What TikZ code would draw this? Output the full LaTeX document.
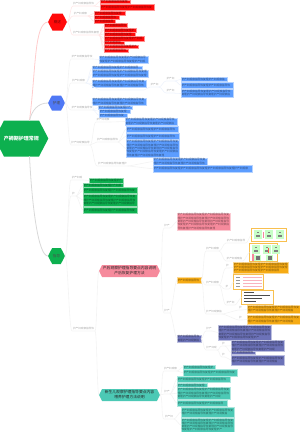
\documentclass[tikz,border=0pt]{standalone}
\usepackage{fontspec}
\setmainfont{Noto Sans CJK SC}
\usetikzlibrary{shapes.symbols}
\definecolor{mmred}{HTML}{FF0A0A}
\definecolor{mmblue}{HTML}{5C9DFF}
\definecolor{mmhex}{HTML}{4F78F5}
\definecolor{mmgreen}{HTML}{0DB04F}
\definecolor{mmpink}{HTML}{F68A9C}
\definecolor{mmorange}{HTML}{F6AB14}
\definecolor{mmpurple}{HTML}{6C72B8}
\definecolor{mmteal}{HTML}{4CC9B5}
\definecolor{lnkred}{HTML}{FFE6E6}
\definecolor{lnkgray}{HTML}{F3F3F3}
\definecolor{lnkblue}{HTML}{EEF3FC}
\definecolor{trunkred}{HTML}{FFCCCC}
\definecolor{trunkgray}{HTML}{D8D8D8}
\tikzset{
  hexnode/.style={signal,signal to=east and west,signal pointer angle=125,inner sep=0pt,outer sep=0pt,align=center},
  leafbox/.style={rectangle,inner sep=0pt,outer sep=0pt,line width=.4pt,align=left,font=\fontsize{2.7}{3.3}\selectfont},
  tag/.style={rectangle,inner sep=0pt,outer sep=0pt,minimum height=4pt,text=black!35,font=\fontsize{2.6}{3.1}\selectfont,align=left,anchor=west},
  imgframe/.style={rectangle,draw=mmorange!75,line width=.9pt,fill=white,inner sep=0pt,outer sep=0pt},
  conn/.style={draw=#1,line width=.6pt,line cap=round},
  trunk/.style={draw=#1,line width=.8pt,line cap=round},
}
% short run of characters that fills a text block
\newcommand\fillchars[1]{\foreach \i in {1,...,#1}{\pgfmathtruncatemacro\k{mod(\i,10)}\ifcase\k 理\or 护\or 产\or 妇\or 观\or 察\or 指\or 导\or 恢\or 复\fi\hskip 0pt plus .1pt\relax}}
% filled text block: name, x1, y1, x2, y2, colour
\newcommand\mmbox[6]{%
  \pgfmathsetmacro\bw{#4-#2}\pgfmathsetmacro\bh{#5-#3}%
  \pgfmathsetmacro\tw{\bw-1}%
  \pgfmathtruncatemacro\nc{max(1,floor(\tw/2.75))*max(1,floor((\bh-.2)/3.3))}%
  \node[leafbox,text=#6!50!black,fill=#6,draw=#6!45,minimum width=\bw pt,minimum height=\bh pt,text width=\tw pt] (#1) at ({(#2+#4)/2},{(#3+#5)/2}) {\fillchars{\nc}};}
% underlined branch label: name, x1, x2, y
\newcommand\mmtag[4]{%
  \pgfmathsetmacro\bw{#3-#2}%
  \pgfmathtruncatemacro\nc{max(1,floor(\bw/2.6))}%
  \node[tag,minimum width=\bw pt] (#1) at (#2,#4) {\fillchars{\nc}};}
% connector from a parent anchor to a label, running on as its underline
\newcommand\mmlink[3]{\path[conn=#1] (#2) to[out=0,in=180,out distance=3pt,in distance=3pt] (#3.south west) -- (#3.south east);}
% connector from a label to the block it introduces
\newcommand\mmleaf[3]{\path[conn=#1] (#2.south east) to[out=0,in=180,out distance=2pt,in distance=2pt] (#3.west);}
\begin{document}
\begin{tikzpicture}[x=1pt,y=-1pt]
\useasboundingbox (0,0) rectangle (300,432);

% root and the three main branches
\node[hexnode,fill=mmgreen,text=white,font=\fontsize{5}{6}\selectfont\bfseries,minimum width=39pt,minimum height=36pt] (root) at (21.5,138.5) {产褥期护理常规};
\node[hexnode,fill=mmred,text=mmred!45!black,font=\fontsize{3.6}{4}\selectfont,minimum width=19pt,minimum height=17pt] (hr) at (57.5,22) {概述};
\node[hexnode,fill=mmhex,text=black!70,font=\fontsize{3.6}{4}\selectfont,minimum width=17pt,minimum height=15pt] (hb) at (56.5,103) {护理};
\node[hexnode,fill=mmgreen,text=black!70,font=\fontsize{3.6}{4}\selectfont,minimum width=17pt,minimum height=16pt] (hg) at (56.5,256) {指导};
\path[trunk=trunkred] (root.north) ++(8,0) .. controls (36,70) and (34,23) .. (hr.west);
\path[trunk=trunkgray] (root.north) ++(8,0) .. controls (32,110) and (38,103) .. (hb.west);
\path[trunk=trunkgray] (root.south) ++(8,0) .. controls (32,205) and (38,256) .. (hg.west);

% red branch
\mmtag{l1}{73}{94}{4}\mmtag{l2}{73}{88}{14}\mmtag{l3}{73}{99}{33}
\mmbox{r1a}{100}{0}{130}{3}{mmred}\mmbox{r1b}{100}{4}{154}{10}{mmred}
\mmbox{r2a}{94}{11.5}{125}{15}{mmred}\mmbox{r2b}{94}{15}{119}{19}{mmred}\mmbox{r2c}{94}{19.5}{115}{23}{mmred}
\mmbox{r3a}{104}{23.5}{127}{27}{mmred}\mmbox{r3b}{104}{28}{136}{32}{mmred}\mmbox{r3c}{104}{32}{135}{36}{mmred}
\mmbox{r3d}{104}{36}{144}{41}{mmred}\mmbox{r3e}{104}{41}{124}{44.5}{mmred}\mmbox{r3f}{104}{45}{138}{48.5}{mmred}\mmbox{r3g}{104}{49}{128}{52}{mmred}
\mmlink{lnkred}{hr.east}{l1}\mmlink{lnkred}{hr.east}{l2}\mmlink{lnkred}{hr.east}{l3}
\mmleaf{lnkred}{l1}{r1a}\mmleaf{lnkred}{l1}{r1b}
\mmleaf{lnkred}{l2}{r2a}\mmleaf{lnkred}{l2}{r2b}\mmleaf{lnkred}{l2}{r2c}
\mmleaf{lnkred}{l3}{r3a}\mmleaf{lnkred}{l3}{r3b}\mmleaf{lnkred}{l3}{r3c}\mmleaf{lnkred}{l3}{r3d}\mmleaf{lnkred}{l3}{r3e}\mmleaf{lnkred}{l3}{r3f}\mmleaf{lnkred}{l3}{r3g}

% blue branch
\mmtag{m1}{71}{93}{57}\mmtag{m2}{71}{86}{81}\mmtag{m3}{71}{93}{108}\mmtag{m4}{71}{90}{143}
\mmbox{b1}{99}{56}{148}{63}{mmblue}
\mmbox{b2a}{92}{66}{142}{69.5}{mmblue}\mmbox{b2b}{92}{70}{148}{77}{mmblue}\mmbox{b2c}{92}{80}{146}{87}{mmblue}
\mmtag{n1}{150}{159}{85}\mmtag{o1}{166}{175}{79}\mmtag{o2}{166}{175}{91}
\mmbox{b3a}{181}{77}{227}{81.5}{mmblue}\mmbox{b3b}{181}{82}{233}{88.5}{mmblue}\mmbox{b3c}{181}{89}{233}{97}{mmblue}
\mmbox{b4}{92}{98}{146}{105}{mmblue}\mmbox{b5a}{98}{106}{132}{109}{mmblue}\mmbox{b5b}{99}{109.5}{130}{113}{mmblue}\mmbox{b5c}{99}{113.5}{127}{117}{mmblue}
\mmtag{p1}{96}{110}{120}\mmtag{p2}{97}{118}{140}\mmtag{p3}{97}{128}{164}
\mmbox{q1}{125}{118}{177}{125}{mmblue}\mmbox{q2}{126}{126}{178}{132.5}{mmblue}\mmbox{q3}{126}{133}{179}{139.5}{mmblue}\mmbox{q4}{126}{140}{179}{157}{mmblue}
\mmbox{q5}{153}{158}{207}{165}{mmblue}\mmbox{q6}{153}{165.5}{252}{172}{mmblue}
\coordinate (n1via) at (100,90);\coordinate (n1end) at (144,90);
\mmlink{lnkgray}{hb.east}{m1}\mmlink{lnkgray}{hb.east}{m2}\mmlink{lnkgray}{hb.east}{m3}\mmlink{lnkgray}{hb.east}{m4}
\mmleaf{lnkblue}{m1}{b1}\mmleaf{lnkblue}{m2}{b2a}\mmleaf{lnkblue}{m2}{b2b}\mmleaf{lnkblue}{m2}{b2c}
\path[conn=lnkblue] (m2.south east) to[out=0,in=180,out distance=3pt,in distance=3pt] (n1via) -- (n1end) to[out=0,in=180,out distance=3pt,in distance=3pt] (n1.south west) -- (n1.south east);
\mmlink{lnkblue}{n1.south east}{o1}\mmlink{lnkblue}{n1.south east}{o2}
\mmleaf{lnkblue}{o1}{b3a}\mmleaf{lnkblue}{o1}{b3b}\mmleaf{lnkblue}{o2}{b3c}
\mmleaf{lnkblue}{m3}{b4}\mmleaf{lnkblue}{m3}{b5a}\mmleaf{lnkblue}{m3}{b5b}\mmleaf{lnkblue}{m3}{b5c}
\mmlink{lnkgray}{m4.south east}{p1}\mmlink{lnkgray}{m4.south east}{p2}\mmlink{lnkgray}{m4.south east}{p3}
\mmleaf{lnkgray}{p1}{q1}\mmleaf{lnkgray}{p2}{q2}\mmleaf{lnkgray}{p2}{q3}\mmleaf{lnkgray}{p2}{q4}\mmleaf{lnkgray}{p3}{q5}\mmleaf{lnkgray}{p3}{q6}

% green branch, upper part
\mmtag{g1}{71}{83}{178}\mmtag{g2}{71}{76}{194}\mmtag{g3}{72}{95}{329}
\mmbox{gb1}{89}{178}{123}{183}{mmgreen}\mmbox{gb2}{83}{183}{123}{187}{mmgreen}\mmbox{gb3}{83}{187.5}{137}{193.5}{mmgreen}
\mmbox{gb4}{83}{194}{137}{206}{mmgreen}\mmbox{gb5}{83}{207}{137}{213}{mmgreen}
\mmlink{lnkgray}{hg.east}{g1}\mmlink{lnkgray}{hg.east}{g2}\mmlink{lnkgray}{hg.east}{g3}
\mmleaf{lnkgray}{g1}{gb1}\mmleaf{lnkgray}{g2}{gb2}\mmleaf{lnkgray}{g2}{gb3}\mmleaf{lnkgray}{g2}{gb4}\mmleaf{lnkgray}{g2}{gb5}

% two sub-trees under the lower label
\node[hexnode,fill=mmpink,text=black!85,font=\fontsize{3.8}{5}\selectfont,minimum width=61pt,minimum height=12pt] (pk) at (129.5,271) {产后观察护理指导要点内容说明\\产后恢复护理方法};
\node[hexnode,fill=mmteal,text=black!85,font=\fontsize{3.8}{5}\selectfont,minimum width=61pt,minimum height=12pt] (tl) at (129.5,395) {新生儿观察护理指导要点内容\\喂养护理方法说明};
\path[conn=lnkgray] (g3.south east) to[out=0,in=180,out distance=2pt,in distance=2pt] (pk.west);
\path[conn=lnkgray] (g3.south east) to[out=0,in=180,out distance=2pt,in distance=2pt] (tl.west);

% pink sub-tree
\mmtag{e1}{164}{170}{226}\mmtag{e2}{164}{170}{311}
\mmbox{pb}{177}{213}{230}{230}{mmpink}
\mmbox{ob}{177}{277}{201}{283}{mmorange}\mmbox{pu}{177}{335}{201}{342}{mmpurple}
\mmlink{lnkgray}{pk.east}{e1}\mmlink{lnkgray}{pk.east}{e2}
\mmleaf{lnkgray}{e1}{pb}\mmleaf{lnkgray}{e2}{ob}\mmleaf{lnkgray}{e2}{pu}
\mmtag{f1}{206}{219}{249}\mmtag{f2}{206}{219}{283}\mmtag{f3}{206}{222}{312}
\mmtag{h1}{226}{246}{241}\mmtag{h2}{226}{243}{259}\mmtag{h3}{226}{229}{266}\mmtag{h4}{225}{229}{287}\mmtag{h5}{226}{235}{303}
\mmtag{h6}{239}{242}{308}\mmtag{h7}{239}{242}{318}
\node[imgframe,minimum width=35pt,minimum height=13pt] (img1) at (269,235) {};
\node[imgframe,minimum width=28pt,minimum height=18pt] (img2) at (263.5,252.5) {};
\node[imgframe,minimum width=30pt,minimum height=15pt] (img3) at (248.5,282) {};
\node[imgframe,minimum width=32pt,minimum height=14pt] (img4) at (257.5,297.5) {};
\mmbox{ob1}{233}{262}{288}{273}{mmorange}\mmbox{ob2}{247}{305}{300}{313.5}{mmorange}\mmbox{ob3}{247}{315}{300}{324}{mmorange}
\foreach \a/\b in {ob/f1,ob/f2,ob/f3}{\mmlink{lnkgray}{\a.east}{\b}}
\foreach \a/\b in {f1/h1,f1/h2,f2/h3,f2/h4,f2/h5,f3/h6,f3/h7}{\mmlink{lnkgray}{\a.south east}{\b}}
\mmleaf{lnkgray}{h1}{img1}\mmleaf{lnkgray}{h2}{img2}\mmleaf{lnkgray}{h3}{ob1}\mmleaf{lnkgray}{h4}{img3}\mmleaf{lnkgray}{h5}{img4}\mmleaf{lnkgray}{h6}{ob2}\mmleaf{lnkgray}{h7}{ob3}

% green chart panels inside the first two frames
\foreach \x/\y in {254/230,265/230,276/230,252/245,263/245,272/245}{
  \fill[green!22] (\x,\y) rectangle ++(7.5,9);
  \fill[black!50] (\x+2.5,\y+2) rectangle ++(2.5,1.2);
  \fill[black!50] (\x+2,\y+5) rectangle ++(3.5,1.8);
}
\fill[mmpink] (262.5,232) rectangle ++(1,6);
\fill[mmpink] (252,254) rectangle ++(2,7);
\fill[mmred!70] (268,248) rectangle ++(1,5);
\fill[green!22] (254,255) rectangle ++(7,6);\fill[green!22] (266,255) rectangle ++(7,6);
\fill[black!55] (255.5,256) rectangle ++(4,4);\fill[black!55] (268,256) rectangle ++(3.5,4);
% table rows and dark marks inside the other two frames
\foreach \y in {277,280,283,286}{
  \fill[mmpink!65] (243,\y) rectangle ++(19,1);
  \fill[black!40] (236,\y) rectangle ++(4,1);
}
\foreach \y/\w in {292/10,294.5/26,298/18,301/12}{
  \fill[black!70] (244,\y) rectangle ++(\w,1.2);
}

% purple sub-tree
\mmtag{i1}{206}{212}{329}\mmtag{i2}{206}{217}{348}\mmtag{j1}{222}{225}{344}\mmtag{j2}{222}{225}{355}
\mmbox{pb1}{218}{325}{271}{340}{mmpurple}
\mmbox{pb2}{231}{340.5}{284}{351}{mmpurple}\mmbox{pb3}{231}{351}{255}{354}{mmpurple}\mmbox{pb4}{231}{355}{284}{365}{mmpurple}
\mmlink{lnkgray}{pu.east}{i1}\mmlink{lnkgray}{pu.east}{i2}
\mmleaf{lnkgray}{i1}{pb1}
\mmlink{lnkgray}{i2.south east}{j1}\mmlink{lnkgray}{i2.south east}{j2}
\mmleaf{lnkgray}{j1}{pb2}\mmleaf{lnkgray}{j1}{pb3}\mmleaf{lnkgray}{j2}{pb4}

% teal sub-tree
\mmtag{t1}{164}{177}{369}\mmtag{t2}{164}{170}{392}\mmtag{t3}{164}{174}{417}
\mmbox{tb1}{183}{365}{215}{369}{mmteal}\mmbox{tb2}{183}{369.5}{237}{376}{mmteal}
\mmbox{tb3}{177}{376.5}{230}{382}{mmteal}\mmbox{tb4}{177}{383}{207}{387}{mmteal}\mmbox{tb5}{177}{387.5}{230}{399}{mmteal}\mmbox{tb6}{177}{400}{227}{406.5}{mmteal}
\mmbox{tb7}{181}{407}{234}{417}{mmteal}\mmbox{tb8}{181}{418}{234}{432}{mmteal}
\mmlink{lnkgray}{tl.east}{t1}\mmlink{lnkgray}{tl.east}{t2}\mmlink{lnkgray}{tl.east}{t3}
\mmleaf{lnkgray}{t1}{tb1}\mmleaf{lnkgray}{t1}{tb2}
\mmleaf{lnkgray}{t2}{tb3}\mmleaf{lnkgray}{t2}{tb4}\mmleaf{lnkgray}{t2}{tb5}\mmleaf{lnkgray}{t2}{tb6}
\mmleaf{lnkgray}{t3}{tb7}\mmleaf{lnkgray}{t3}{tb8}
\end{tikzpicture}
\end{document}
